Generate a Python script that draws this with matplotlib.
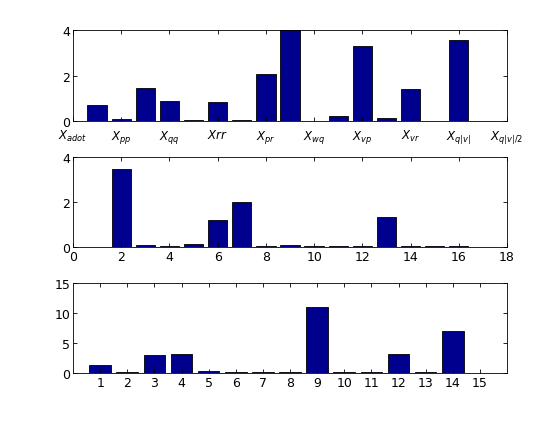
import matplotlib
matplotlib.use("Agg")
import matplotlib.pyplot as plt

# top panel: coefficient bars at positions 1..17, labels every 2 units
top_pos = [1, 2, 3, 4, 5, 6, 7, 8, 9, 10, 11, 12, 13, 14, 15, 16, 17]
top_vals = [0.70, 0.08, 1.45, 0.87, 0.04, 0.83, 0.04, 2.05, 4.6,
            0.0, 0.20, 3.30, 0.12, 1.40, 0.0, 3.57, 0.0]
top_ticks = [0, 2, 4, 6, 8, 10, 12, 14, 16, 18]
top_labels = [r"$X_{adot}$", r"$X_{pp}$", r"$X_{qq}$", r"$Xrr$", r"$X_{pr}$",
              r"$X_{wq}$", r"$X_{vp}$", r"$X_{vr}$", r"$X_{q|v|}$",
              r"$X_{q|v|/2}$"]

# middle panel
mid_pos = [2, 3, 4, 5, 6, 7, 8, 9, 10, 11, 12, 13, 14, 15, 16]
mid_vals = [3.45, 0.08, 0.04, 0.12, 1.22, 2.00, 0.03, 0.08, 0.03,
            0.03, 0.03, 1.35, 0.03, 0.03, 0.03]

# bottom panel
bot_pos = [1, 2, 3, 4, 5, 6, 7, 8, 9, 10, 11, 12, 13, 14, 15]
bot_vals = [1.40, 0.15, 3.00, 3.20, 0.30, 0.15, 0.15, 0.15, 11.0,
            0.15, 0.15, 3.20, 0.15, 7.00, 0.0]

BAR = "#00008f"

fig = plt.figure(figsize=(5.6, 4.27), dpi=100)
W, H = 560.0, 427.0
left, right = 73 / W, 507 / W


def make_ax(top_px, bot_px):
    ax = fig.add_axes([left, 1 - bot_px / H, right - left, (bot_px - top_px) / H])
    ax.tick_params(direction="in", top=True, right=True, length=3,
                   width=0.6, labelsize=9, pad=2)
    for s in ax.spines.values():
        s.set_linewidth(0.6)
    return ax


ax1 = make_ax(31, 122)
ax1.bar(top_pos, top_vals, width=0.8, color=BAR, edgecolor="black", linewidth=0.6)
ax1.set_xlim(0, 18)
ax1.set_ylim(0, 4)
ax1.set_yticks([0, 2, 4])
ax1.set_xticks(top_ticks)
ax1.set_xticklabels(top_labels, fontsize=8.5)
ax1.tick_params(axis="x", pad=5)

ax2 = make_ax(158, 248)
ax2.bar(mid_pos, mid_vals, width=0.8, color=BAR, edgecolor="black", linewidth=0.6)
ax2.set_xlim(0, 18)
ax2.set_ylim(0, 4)
ax2.set_yticks([0, 2, 4])
ax2.set_xticks(range(0, 19, 2))

ax3 = make_ax(284, 374)
ax3.bar(bot_pos, bot_vals, width=0.8, color=BAR, edgecolor="black", linewidth=0.6)
ax3.set_xlim(0, 16)
ax3.set_ylim(0, 15)
ax3.set_yticks([0, 5, 10, 15])
ax3.set_xticks(range(1, 16))

fig.savefig("out.png", dpi=100)
